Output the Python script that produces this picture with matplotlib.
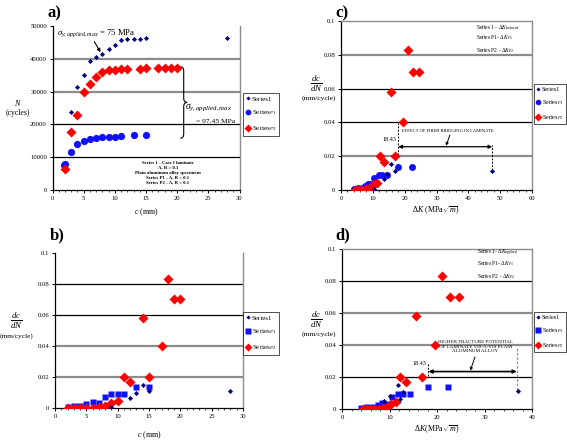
import matplotlib
matplotlib.use('Agg')
import matplotlib.pyplot as plt
from matplotlib.path import Path
from matplotlib.patches import PathPatch
from matplotlib.ticker import FuncFormatter, MultipleLocator

plt.rcParams['font.family'] = ['Liberation Serif', 'DejaVu Serif']
plt.rcParams['mathtext.fontset'] = 'custom'
plt.rcParams['mathtext.rm'] = 'Liberation Serif'
plt.rcParams['mathtext.it'] = 'Liberation Serif:italic'
plt.rcParams['mathtext.bf'] = 'Liberation Serif:bold'

# a) cycles N vs crack length c (mm)
a_s1_c = [3, 4, 5, 6, 7, 8, 9, 10, 11, 12, 13, 14, 15, 28]
a_s1_N = [23700, 31300, 35200, 39200, 40500, 41600, 42900, 44200, 45700, 45900, 46000, 46000, 46200, 46200]
a_p1_c = [1.8, 2, 3, 4, 5, 6, 7, 8, 9, 10, 11, 13, 15]
a_p1_N = [7500, 8000, 11500, 14000, 15000, 15500, 15900, 16200, 16300, 16300, 16500, 16700, 16700]
a_p2_c = [2, 3, 4, 5, 6, 7, 8, 9, 10, 11, 12, 14, 15, 17, 18, 19, 20]
a_p2_N = [6300, 17800, 22900, 30000, 32300, 34600, 36000, 36500, 36700, 37000, 37000, 37000,
          37100, 37100, 37100, 37100, 37100]

# b) dc/dN vs c (mm)
b_s1_c = [9, 12, 13, 14, 15, 28]
b_s1_rate = [0.0005, 0.0062, 0.010, 0.015, 0.011, 0.011]
b_p1_c = [2, 3, 4, 5, 6, 7, 8, 9, 10, 11, 13, 15]
b_p1_rate = [0.0008, 0.001, 0.0013, 0.0023, 0.0036, 0.0034, 0.0072, 0.0091, 0.0091, 0.0091, 0.0136, 0.0136]
b_p2_c = [2, 3, 4, 5, 6, 7, 8, 9, 10, 11, 12, 14, 15, 17, 18, 19, 20]
b_p2_rate = [0.0, 0.0002, 0.0, 0.0001, 0.0003, 0.0008, 0.0015, 0.0034, 0.0043, 0.020, 0.0167,
             0.058, 0.020, 0.040, 0.083, 0.070, 0.070]

# c), d) dc/dN vs delta K (MPa sqrt m)
c_s1_dk = [10.5, 13.6, 14.5, 15.8, 17.0, 47.5]
c_s1_rate = [0.0005, 0.0065, 0.0095, 0.0152, 0.011, 0.011]
d_s1_dk = [8.8, 10.1, 11.7, 12.3, 12.8, 37.0]
d_s1_rate = [0.005, 0.0083, 0.015, 0.006, 0.0106, 0.011]
dk_p1 = [4.0, 5.3, 6.5, 7.5, 8.5, 9.5, 10.5, 11.8, 12.8, 14.3, 18.0, 22.3]
dk_p2 = [4.5, 5.3, 6.2, 7.0, 7.8, 8.6, 9.4, 10.3, 11.3, 12.3, 13.5, 15.6, 16.9, 19.5, 21.1, 22.7, 24.6]

NAVY = '#000080'
BLUE = '#1010ff'
RED = '#ff0000'
GREY = '#8c8c8c'
TS = 4.8   # tick font size

fig = plt.figure(figsize=(5.67, 4.4), dpi=100)

def fx(px):
    return px / 567.0

def fy(py):
    return 1 - py / 440.0

def make_axes(l, t, r, b):
    return fig.add_axes([fx(l), fy(b), fx(r) - fx(l), fy(t) - fy(b)])

def style(ax, xmax, xstep, ymax, ystep, grid_cols, top_on):
    ax.set_xlim(0, xmax)
    ax.set_ylim(0, ymax)
    ax.xaxis.set_major_locator(MultipleLocator(xstep))
    ax.xaxis.set_minor_locator(MultipleLocator(xstep / 5))
    ax.yaxis.set_major_locator(MultipleLocator(ystep))
    ax.yaxis.set_major_formatter(FuncFormatter(lambda v, p: '%g' % round(v, 6)))
    ax.tick_params(which='major', direction='out', length=2.5, width=0.7, labelsize=TS, pad=1.5)
    ax.tick_params(which='minor', axis='x', direction='out', length=1.5, width=0.5)
    ax.tick_params(axis='y', which='minor', left=False)
    for i, col in enumerate(grid_cols):
        y = ystep * (i + 1)
        if col == 'k':
            ax.axhline(y, color='k', lw=0.9, zorder=1)
        else:
            ax.axhline(y, color=GREY, lw=1.6, zorder=1)
    ax.spines['left'].set_linewidth(0.9)
    ax.spines['bottom'].set_linewidth(0.9)
    ax.spines['right'].set_color(GREY)
    ax.spines['right'].set_linewidth(1.0)
    if top_on:
        ax.spines['top'].set_color(GREY)
        ax.spines['top'].set_linestyle((0, (1, 1)))
        ax.spines['top'].set_linewidth(1.0)
    else:
        ax.spines['top'].set_visible(False)
    for sp in ax.spines.values():
        sp.set_zorder(2)

def legend(ax, handles, labels, l, t, fs):
    lg = ax.legend(handles, labels, loc='upper left', bbox_to_anchor=(fx(l), fy(t)),
                   bbox_transform=fig.transFigure, fontsize=fs, frameon=True, fancybox=False,
                   borderpad=0.4, handlelength=0.6, handletextpad=0.25, labelspacing=1.0,
                   borderaxespad=0, markerscale=0.8)
    lg.get_frame().set_edgecolor('k')
    lg.get_frame().set_linewidth(0.6)

def brace(ax, x0, w, y0, y1):
    ym = (y0 + y1) / 2.0
    q = (y1 - y0) * 0.06
    xh = x0 + w / 2.0
    verts = [(x0, y1), (xh, y1), (xh, y1 - q), (xh, ym + q), (xh, ym), (x0 + w, ym),
             (xh, ym), (xh, ym - q), (xh, y0 + q), (xh, y0), (x0, y0)]
    codes = [Path.MOVETO, Path.CURVE3, Path.CURVE3, Path.LINETO, Path.CURVE3, Path.CURVE3,
             Path.CURVE3, Path.CURVE3, Path.LINETO, Path.CURVE3, Path.CURVE3]
    ax.add_patch(PathPatch(Path(verts, codes), fill=False, lw=0.8, color='k', clip_on=False))

ylab_rate = r'$\frac{dc}{dN}$'
FRAC = 9
labels = ['Series1', r'Series$_{P1}$', r'Series$_{P2}$']

# ---------------- a) ----------------
ax = make_axes(52.5, 26, 239.5, 190)
style(ax, 30, 5, 50000, 10000, ['k', 'k', GREY, GREY], False)
h1, = ax.plot(a_s1_c, a_s1_N, 'D', color=NAVY, ms=2.6, mec='none', zorder=5)
h2, = ax.plot(a_p1_c, a_p1_N, 'o', color=BLUE, ms=5.2, mec='none', zorder=4)
h3, = ax.plot(a_p2_c, a_p2_N, 'D', color=RED, ms=4.6, mec='none', zorder=4)
legend(ax, [h1, h2, h3], labels, 243, 93, 5.0)
ax.annotate(r'$\sigma_{y,applied,max}$ = 75 MPa', xy=(7.7, 42000), xytext=(0.8, 47900),
            fontsize=6.2, va='center', ha='left',
            arrowprops=dict(arrowstyle='-|>', color='k', lw=0.8, mutation_scale=5,
                            shrinkA=0, shrinkB=0, relpos=(0.45, 0)))
brace(ax, 20.5, 1.1, 15800, 37600)
ax.text(21.3, 25000, r'$\sigma_{y,applied,max}$', fontsize=7, ha='left', va='center')
ax.text(26.1, 21000, '= 97.45 MPa', fontsize=5.4, ha='center', va='center')
ax.text(18.5, 5200, 'Series 1 - Case I laminate\nA, R = 0.1\nPlain aluminum alloy specimens\n'
        'Series P1 - A, R = 0.1\nSeries P2 - A, R = 0.1',
        fontsize=3.4, ha='center', va='center', linespacing=1.35, fontweight='bold')
ax.set_xlabel(r'$c$ (mm)', fontsize=5.8, labelpad=4)
fig.text(fx(18), fy(103), r'$N$', fontsize=5.8, ha='center', va='center')
fig.text(fx(18), fy(113), '(cycles)', fontsize=5.6, ha='center', va='center')
fig.text(fx(48), fy(13), 'a)', fontsize=12, fontweight='bold', ha='left', va='center')

# ---------------- c) ----------------
ax = make_axes(341, 21, 532, 190)
style(ax, 60, 10, 0.1, 0.02, [GREY, 'k', 'k', GREY], True)
h1, = ax.plot(c_s1_dk, c_s1_rate, 'D', color=NAVY, ms=2.6, mec='none', zorder=5)
h2, = ax.plot(dk_p1, b_p1_rate, 'o', color=BLUE, ms=5.0, mec='none', zorder=4)
h3, = ax.plot(dk_p2, b_p2_rate, 'D', color=RED, ms=4.6, mec='none', zorder=4)
legend(ax, [h1, h2, h3], labels, 534, 84, 4.4)
ax.text(42.4, 0.0964, r'Series 1 - $\Delta K_{Induced}$', fontsize=4.0, va='center')
ax.text(42.4, 0.0900, r'Series P1- $\Delta K_{P1}$', fontsize=4.0, va='center')
ax.text(42.4, 0.0828, r'Series P2 - $\Delta K_{P2}$', fontsize=4.0, va='center')
ax.plot([18.0, 18.0], [0.0205, 0.0395], color='k', ls=(0, (2, 1.5)), lw=0.7, zorder=3)
ax.plot([47.5, 47.5], [0.012, 0.0268], color='k', ls=(0, (2, 1.5)), lw=0.7, zorder=3)
ax.annotate('', xy=(18.0, 0.0256), xytext=(47.5, 0.0256),
            arrowprops=dict(arrowstyle='<|-|>', color='k', lw=0.9, mutation_scale=5,
                            shrinkA=0, shrinkB=0))
ax.text(19.2, 0.0352, 'EFFECT OF FIBER BRIDGING IN LAMINATE', fontsize=3.3, va='center', ha='left')
ax.annotate('', xy=(33.0, 0.0262), xytext=(34.2, 0.0325),
            arrowprops=dict(arrowstyle='-|>', color='k', lw=0.7, mutation_scale=4,
                            shrinkA=0, shrinkB=0))
ax.text(17.4, 0.0296, '18.43', fontsize=4.4, ha='right', va='center')
ax.set_xlabel(r'$\Delta K$ (MPa$\sqrt{m}$)', fontsize=5.8, labelpad=3)
fig.text(fx(316), fy(84), ylab_rate, fontsize=FRAC, ha='center', va='center')
fig.text(fx(319), fy(98), '(mm/cycle)', fontsize=5.4, ha='center', va='center')
fig.text(fx(335), fy(13), 'c)', fontsize=12, fontweight='bold', ha='left', va='center')

# ---------------- b) ----------------
ax = make_axes(55, 253, 243, 408)
style(ax, 30, 5, 0.1, 0.02, [GREY, GREY, 'k', 'k'], False)
h1, = ax.plot(b_s1_c, b_s1_rate, 'D', color=NAVY, ms=2.6, mec='none', zorder=5)
h2, = ax.plot(b_p1_c, b_p1_rate, 's', color=BLUE, ms=4.6, mec='none', zorder=4)
h3, = ax.plot(b_p2_c, b_p2_rate, 'D', color=RED, ms=4.6, mec='none', zorder=4)
legend(ax, [h1, h2, h3], labels, 243, 312, 5.0)
ax.set_xlabel(r'$c$ (mm)', fontsize=5.8, labelpad=8)
fig.text(fx(16), fy(321), ylab_rate, fontsize=FRAC, ha='center', va='center')
fig.text(fx(16), fy(336), '(mm/cycle)', fontsize=5.2, ha='center', va='center')
fig.text(fx(50), fy(235), 'b)', fontsize=12, fontweight='bold', ha='left', va='center')

# ---------------- d) ----------------
ax = make_axes(342, 249, 532, 409)
style(ax, 40, 10, 0.1, 0.02, ['k', GREY, GREY, 'k'], True)
h1, = ax.plot(d_s1_dk, d_s1_rate, 'D', color=NAVY, ms=2.6, mec='none', zorder=5)
h2, = ax.plot(dk_p1, b_p1_rate, 's', color=BLUE, ms=4.6, mec='none', zorder=4)
h3, = ax.plot(dk_p2, b_p2_rate, 'D', color=RED, ms=4.6, mec='none', zorder=4)
legend(ax, [h1, h2, h3], labels, 534, 312, 4.4)
ax.text(28.4, 0.0975, r'Series 1- $\Delta K_{applied}$', fontsize=4.0, va='center')
ax.text(28.4, 0.0906, r'Series P1- $\Delta K_{P1}$', fontsize=4.0, va='center')
ax.text(28.4, 0.0830, r'Series P2 - $\Delta K_{P2}$', fontsize=4.0, va='center')
ax.plot([18.2, 18.2], [0.0205, 0.0288], color='k', ls=(0, (2, 1.5)), lw=0.7, zorder=3)
ax.plot([36.8, 36.8], [0.012, 0.038], color=GREY, ls=(0, (2, 1.5)), lw=0.9, zorder=3)
ax.annotate('', xy=(18.2, 0.0234), xytext=(36.8, 0.0234),
            arrowprops=dict(arrowstyle='<|-|>', color='k', lw=1.2, mutation_scale=5,
                            shrinkA=0, shrinkB=0))
ax.text(28.1, 0.0390, 'HIGHER FRACTURE POTENTIAL\nOF LAMINATE VIS-À-VIS PLAIN\nALUMINUM ALLOY',
        fontsize=3.6, ha='center', va='center', linespacing=1.1)
ax.annotate('', xy=(27.0, 0.0240), xytext=(28.0, 0.0325),
            arrowprops=dict(arrowstyle='-|>', color='k', lw=0.7, mutation_scale=4,
                            shrinkA=0, shrinkB=0))
ax.text(17.8, 0.0282, '18.43', fontsize=4.4, ha='right', va='center')
ax.set_xlabel(r'$\Delta K$(MPa$\sqrt{m}$)', fontsize=5.8, labelpad=3)
fig.text(fx(316), fy(320), ylab_rate, fontsize=FRAC, ha='center', va='center')
fig.text(fx(319), fy(334), '(mm/cycle)', fontsize=5.4, ha='center', va='center')
fig.text(fx(335), fy(235), 'd)', fontsize=12, fontweight='bold', ha='left', va='center')

fig.savefig('out.png', dpi=100)
